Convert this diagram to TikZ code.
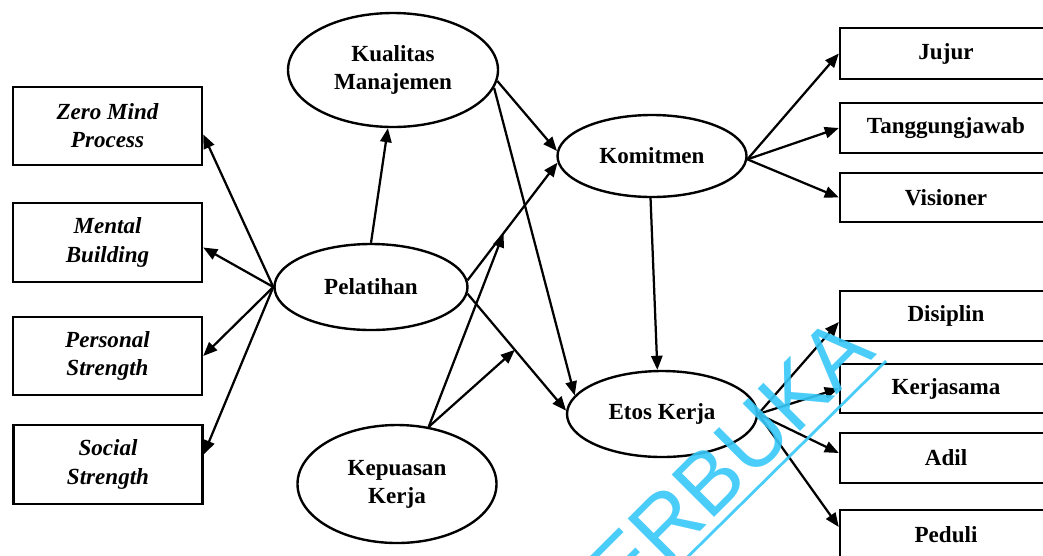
\documentclass[tikz,border=0pt]{standalone}
\usepackage{fontspec}
\setmainfont{Liberation Serif}
\newfontfamily\wmfont{Liberation Sans}
\usetikzlibrary{arrows.meta,shapes.geometric,calc}
\newdimen\pxu \pxu=0.025cm
\definecolor{wmcyan}{RGB}{55,200,248}
\tikzset{
 lat/.style={ellipse, draw, line width=1.7pt, inner sep=0pt, align=center,
   font=\fontsize{16.4}{20}\selectfont\bfseries},
 ind/.style={rectangle, draw, line width=1.7pt, inner sep=0pt, align=center,
   font=\fontsize{16.4}{20}\selectfont\bfseries},
 indi/.style={ind, minimum width=189*\pxu, font=\fontsize{16.4}{20}\selectfont\bfseries\itshape},
 indr/.style={ind, minimum width=212*\pxu},
 arr/.style={line width=1.6pt, -{Triangle[length=10pt,width=8pt]}},
 wm/.style={text=wmcyan, font=\wmfont\fontsize{62}{62}\selectfont, rotate=45,
   anchor=base east, inner sep=0pt, opacity=0.9}
}
\begin{document}
\begin{tikzpicture}[x=0.025cm,y=-0.025cm]
\useasboundingbox (0,0) rectangle (1043,555);
\clip (0,0) rectangle (1043,555);
\fill[white] (0,0) rectangle (1043,555);

% latent constructs
\node[lat, minimum width=210*\pxu, minimum height=114*\pxu] (kual) at (393,70) {Kualitas\\Manajemen};
\node[lat, minimum width=193*\pxu, minimum height=86*\pxu] (pel) at (371,287) {Pelatihan};
\node[lat, minimum width=199*\pxu, minimum height=118*\pxu] (kep) at (397,484) {Kepuasan\\Kerja};
\node[lat, minimum width=189*\pxu, minimum height=82*\pxu] (kom) at (652,156) {Komitmen};
\node[lat, minimum width=190*\pxu, minimum height=86*\pxu] (etos) at (662,414) {Etos Kerja};

% left indicators
\node[indi, minimum height=78*\pxu] (zmp) at (107.5,126) {Zero Mind\\Process};
\node[indi, minimum height=79*\pxu] (mb) at (107.5,242.5) {Mental\\Building};
\node[indi, minimum height=78*\pxu] (ps) at (107.5,356) {Personal\\Strength};
\node[indi, minimum height=79*\pxu] (ss) at (108,464.5) {Social\\Strength};

% right indicators
\node[indr, minimum height=51*\pxu] (jujur) at (946,53.5) {Jujur};
\node[indr, minimum height=50*\pxu] (tang) at (946,128) {Tanggungjawab};
\node[indr, minimum height=49*\pxu] (vis) at (946,197.5) {Visioner};
\node[indr, minimum height=50*\pxu] (dis) at (946,316) {Disiplin};
\node[indr, minimum height=49*\pxu] (kerj) at (946,388.5) {Kerjasama};
\node[indr, minimum height=50*\pxu] (adil) at (946,458) {Adil};
\node[indr, minimum height=50*\pxu] (ped) at (946,535) {Peduli};

% arrows from Pelatihan
\draw[arr] (pel.west) -- (zmp.-5);
\draw[arr] (pel.west) -- (mb.-3);
\draw[arr] (pel.west) -- (ps.east);
\draw[arr] (pel.west) -- (ss.6);
\draw[arr] (pel.north) -- (kual.-95);
\draw[arr] (pel.4) -- coordinate[pos=0.4] (m1) (kom.184);
\draw[arr] (pel.-4) -- coordinate[pos=0.48] (m2) (etos.178);

% Kualitas Manajemen
\draw[arr] (kual.-6) -- (kom.177);
\draw[arr] (kual.-10) -- (etos.168);

% moderation by Kepuasan Kerja
\draw[arr] (kep.61) -- (m1);
\draw[arr] (kep.61) -- (m2);

% Komitmen
\draw[arr] (kom.-92) -- (etos.96);
\draw[arr] (kom.-2) -- (jujur.west);
\draw[arr] (kom.-2) -- (tang.west);
\draw[arr] (kom.-2) -- (vis.west);

% Etos Kerja
\draw[arr] (etos.east) -- ($(dis.west)+(0,6)$);
\draw[arr] (etos.east) -- (kerj.west);
\draw[arr] (etos.east) -- ($(adil.west)+(0,-5)$);
\draw[arr] (etos.east) -- ($(ped.west)+(0,-8)$);

% watermark
\node[wm] (wmtext) at (878,354) {TERBUKA};
\draw[wmcyan, line width=2pt, opacity=0.9] (640,604) -- (886,361);
\end{tikzpicture}
\end{document}
